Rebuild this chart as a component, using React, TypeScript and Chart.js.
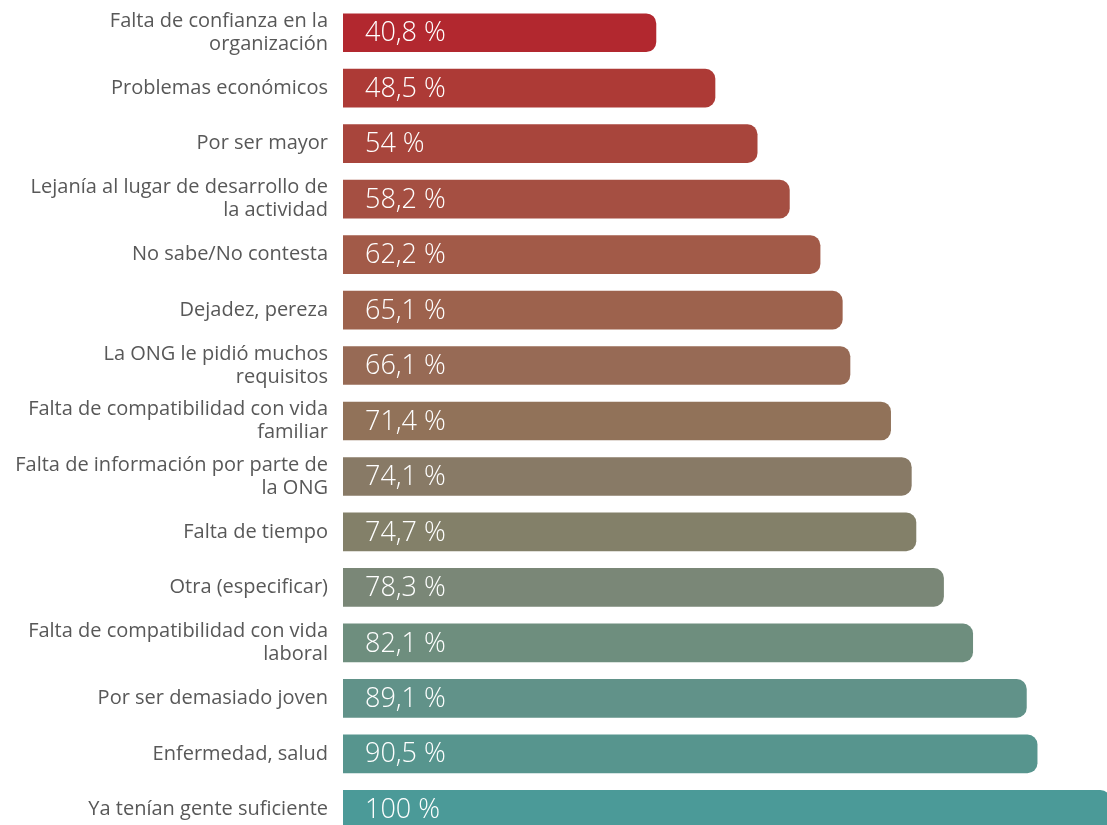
import React, { useEffect, useRef } from "react";
import { Chart, registerables } from "chart.js";

Chart.register(...registerables);

const categories: (string | string[])[] = [
  ["Falta de confianza en la", "organización"],
  "Problemas económicos",
  "Por ser mayor",
  ["Lejanía al lugar de desarrollo de", "la actividad"],
  "No sabe/No contesta",
  "Dejadez, pereza",
  ["La ONG le pidió muchos", "requisitos"],
  ["Falta de compatibilidad con vida", "familiar"],
  ["Falta de información por parte de", "la ONG"],
  "Falta de tiempo",
  "Otra (especificar)",
  ["Falta de compatibilidad con vida", "laboral"],
  "Por ser demasiado joven",
  "Enfermedad, salud",
  "Ya tenían gente suficiente",
];

const values: number[] = [40.8, 48.5, 54, 58.2, 62.2, 65.1, 66.1, 71.4, 74.1, 74.7, 78.3, 82.1, 89.1, 90.5, 100];

const barColors: string[] = [
  "#b2282f", "#ad3a36", "#a8453c", "#a54f42", "#a25a48",
  "#9d624d", "#976a55", "#917259", "#887a66", "#838069",
  "#7a8777", "#6e8e7e", "#619289", "#57958e", "#4b9a98",
];

const valueLabelPlugin = {
  id: "valueLabels",
  afterDatasetsDraw(chart: any) {
    const ctx = chart.ctx;
    const meta = chart.getDatasetMeta(0);
    ctx.save();
    ctx.fillStyle = "#ffffff";
    ctx.font = "300 27px 'Open Sans'";
    ctx.textAlign = "left";
    ctx.textBaseline = "middle";
    meta.data.forEach((bar: any, i: number) => {
      const txt = String(values[i]).replace(".", ",") + " %";
      ctx.fillText(txt, bar.base + 22, bar.y + 1);
    });
    ctx.restore();
  },
};

export default function App() {
  const ref = useRef<HTMLCanvasElement>(null);
  useEffect(() => {
    if (!ref.current) return;
    const chart = new Chart(ref.current, {
      type: "bar",
      data: {
        labels: categories,
        datasets: [
          {
            data: values,
            backgroundColor: barColors,
            borderRadius: 10,
            borderSkipped: "start",
            barThickness: 38,
          },
        ],
      },
      options: {
        indexAxis: "y",
        animation: false,
        responsive: false,
        maintainAspectRatio: false,
        layout: { padding: { top: 5, bottom: 0, left: 0, right: 0 } },
        plugins: { legend: { display: false }, tooltip: { enabled: false } },
        scales: {
          x: { display: false, min: 0, max: 100, grid: { display: false } },
          y: {
            grid: { display: false, drawTicks: false },
            border: { display: false },
            afterFit(scale: any) {
              scale.width = 343;
              scale.paddingTop = 0;
              scale.paddingBottom = 0;
            },
            ticks: {
              padding: 15,
              color: "#585858",
              font: { family: "'Open Sans'", size: 20, lineHeight: 1.15 },
            },
          },
        },
      },
      plugins: [valueLabelPlugin],
    });
    return () => chart.destroy();
  }, []);
  return (
    <div style={{ position: "fixed", left: 0, top: 0, width: 1107, height: 825, overflow: "hidden", background: "#fff" }}>
      <canvas ref={ref} width={1110} height={837} style={{ display: "block", width: 1110, height: 837 }} />
    </div>
  );
}
